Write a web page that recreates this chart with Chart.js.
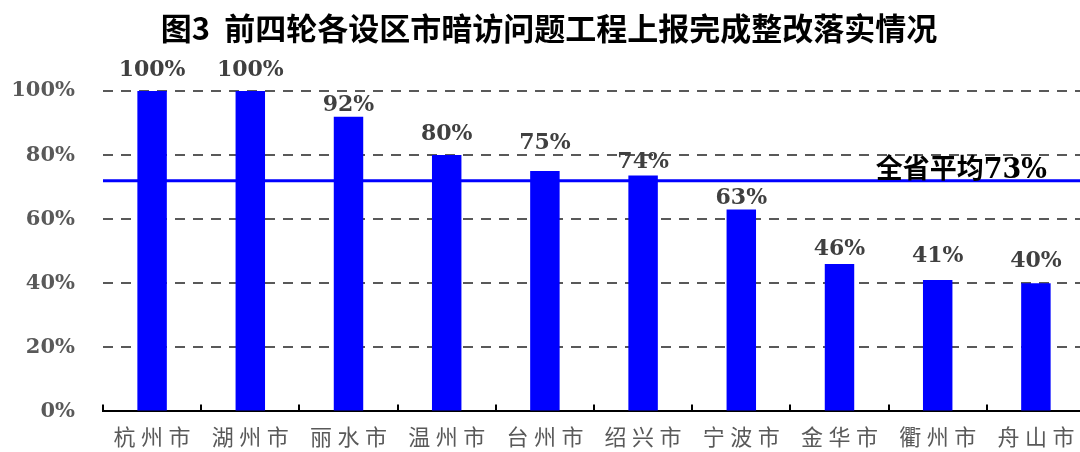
<!DOCTYPE html>
<html><head><meta charset="utf-8">
<script src="https://cdn.jsdelivr.net/npm/chart.js@4.4.0/dist/chart.umd.min.js"></script>
<style>html,body{margin:0;padding:0;background:#fff;overflow:hidden;width:1080px;height:452px}canvas{display:block}</style>
</head><body>
<canvas id="c" width="1090" height="452" style="width:1090px;height:452px"></canvas>
<script>
const titleText = '图3  前四轮各设区市暗访问题工程上报完成整改落实情况';
const categories = ['杭州市','湖州市','丽水市','温州市','台州市','绍兴市','宁波市','金华市','衢州市','舟山市'];
const rates = [100, 100, 92, 80, 75, 73.6, 63, 46, 41, 40];
const rateLabels = ['100%','100%','92%','80%','75%','74%','63%','46%','41%','40%'];
const avgValue = 72;
const avgLabel = '全省平均73%';
const yTickValues = [0, 20, 40, 60, 80, 100];

// label lift above each bar top (styling, px)
const labelLift = [15, 15, 6, 15, 22, 8, 6, 9, 18, 16];

const overlay = {
  id: 'overlay',
  afterDatasetsDraw(chart) {
    const {ctx, chartArea, scales: {x, y}} = chart;
    ctx.save();
    // inward tick marks at category boundaries
    ctx.strokeStyle = '#000';
    ctx.lineWidth = 2;
    for (let i = 0; i <= categories.length; i++) {
      const px = Math.round(x.getPixelForValue(i - 0.5));
      ctx.beginPath();
      ctx.moveTo(px, chartArea.bottom);
      ctx.lineTo(px, chartArea.bottom - 7);
      ctx.stroke();
    }
    // average line
    const ay = y.getPixelForValue(avgValue);
    ctx.strokeStyle = '#0000FF';
    ctx.lineWidth = 3;
    ctx.beginPath();
    ctx.moveTo(chartArea.left, ay);
    ctx.lineTo(chartArea.right + 10, ay);
    ctx.stroke();
    ctx.fillStyle = '#000';
    ctx.font = 'bold 27px "DejaVu Serif", "Noto Sans CJK SC"';
    ctx.textAlign = 'right';
    ctx.textBaseline = 'alphabetic';
    ctx.fillText(avgLabel, 1047, ay - 3);
    // data labels
    const meta = chart.getDatasetMeta(0);
    ctx.fillStyle = '#404040';
    ctx.font = 'bold 22px "DejaVu Serif"';
    ctx.textAlign = 'center';
    meta.data.forEach((bar, i) => {
      ctx.fillText(rateLabels[i], bar.x, bar.y - labelLift[i]);
    });
    ctx.restore();
  },
  afterDraw(chart) {
    const ctx = chart.ctx;
    ctx.save();
    ctx.fillStyle = '#000';
    ctx.font = 'bold 31px "Noto Sans CJK SC"';
    ctx.textAlign = 'center';
    ctx.textBaseline = 'middle';
    ctx.fillText(titleText, 549, 28);
    ctx.restore();
  }
};

new Chart(document.getElementById('c'), {
  type: 'bar',
  data: {
    labels: categories,
    datasets: [{
      data: rates,
      backgroundColor: '#0000FF',
      borderWidth: 0,
      barPercentage: 0.3,
      categoryPercentage: 1.0
    }]
  },
  options: {
    responsive: false,
    animation: false,
    events: [],
    layout: {padding: {top: 91, right: 5, left: 0, bottom: 0}},
    plugins: {legend: {display: false}, tooltip: {enabled: false}, title: {display: false}},
    scales: {
      x: {
        grid: {color: 'transparent', drawTicks: false, drawOnChartArea: false},
        border: {display: true, color: '#000', width: 2},
        ticks: {
          autoSkip: false, maxRotation: 0, padding: 12,
          color: '#595959',
          font: {family: '"Noto Sans CJK SC"', size: 22},
          callback: (v, i) => categories[i].split('').join('\u2005')
        },
        afterFit: s => { s.height = 38; }
      },
      y: {
        min: 0, max: 100,
        afterBuildTicks: s => { s.ticks = yTickValues.map(v => ({value: v})); },
        grid: {
          color: c => (c.tick && c.tick.value === 0) ? 'transparent' : '#595959',
          lineWidth: 2, drawTicks: false
        },
        border: {display: false, dash: [10, 8]},
        ticks: {
          padding: 28, color: '#595959',
          font: {family: '"DejaVu Serif"', size: 21, weight: 'bold'},
          callback: v => v + '%'
        },
        afterFit: s => { s.width = 103; }
      }
    }
  },
  plugins: [overlay]
});
</script>
</body></html>
